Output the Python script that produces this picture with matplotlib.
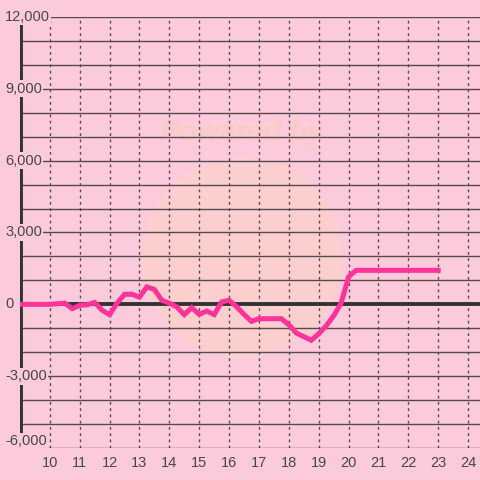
import matplotlib
matplotlib.use("Agg")
import matplotlib.pyplot as plt
import matplotlib.transforms as mtransforms
from matplotlib.patches import Circle

hours = [9.0, 10.0, 10.5, 10.75, 11.0, 11.25, 11.5, 11.75, 12.0, 12.25, 12.5, 12.75,
         13.0, 13.25, 13.5, 13.75, 14.0, 14.25, 14.5, 14.75, 15.0, 15.25, 15.5, 15.75,
         16.0, 16.25, 16.5, 16.75, 17.0, 17.25, 17.5, 17.75, 18.0, 18.25, 18.5, 18.75,
         19.0, 19.25, 19.5, 19.75, 20.0, 20.25, 23.0]
values = [0, 0, 50, -180, -40, -20, 80, -250, -430, 50, 420, 420,
          300, 730, 620, 170, 50, -110, -430, -140, -420, -280, -430, 100,
          170, -100, -420, -710, -600, -600, -600, -600, -850, -1200, -1350, -1500,
          -1230, -900, -480, 50, 1150, 1420, 1420]

x_ticks = list(range(10, 25))
y_ticks = [12000, 9000, 6000, 3000, 0, -3000, -6000]
y_tick_labels = ["12,000", "9,000", "6,000", "3,000", "0", "-3,000", "-6,000"]

bg = "#fccbdb"
grid_c = "#5a4650"
text_c = "#474747"

plt.rcParams['font.family'] = ['Liberation Sans', 'DejaVu Sans']

fig = plt.figure(figsize=(4.8, 4.8), dpi=100, facecolor=bg)
ax = fig.add_axes([20/480, 32/480, 460/480, 431/480])
ax.set_facecolor(bg)
ax.set_xlim(9.0, 24.4)
ax.set_ylim(-6000, 12000)

# watermark
wm = fig.add_axes([0, 0, 1, 1], zorder=0.5)
wm.set_xlim(0, 480); wm.set_ylim(480, 0); wm.axis('off')
wm.patch.set_alpha(0)
wm.add_patch(Circle((242, 258), 100, color="#fdd3c8", alpha=0.6, lw=0))
wm.text(242, 133, "Powered by", ha="center", va="center", fontsize=21,
        fontweight="bold", style="italic", color="#f8cbc4")
ax.set_zorder(1)
ax.patch.set_alpha(0)

# horizontal grid every 1000
for v in range(-6000, 12001, 1000):
    if v == 0:
        continue
    ax.axhline(v, color=grid_c, lw=1.0, zorder=1)
# vertical dotted grid
for h in x_ticks:
    ax.axvline(h, color=grid_c, lw=1.0, ls=(0, (2, 2.5)), zorder=1)

ax.axhline(0, color="#333333", lw=2.8, zorder=2)
ax.axvline(9.0, color="#333333", lw=3.5, zorder=2)

ax.plot(hours, values, color="#ff3399", lw=3.6, solid_joinstyle="miter", zorder=3)

for s in ax.spines.values():
    s.set_visible(False)
ax.set_yticks([])
ax.set_xticks(x_ticks)
ax.set_xticklabels([str(t) for t in x_ticks], color=text_c, fontsize=10.5)
ax.tick_params(axis='x', length=0, pad=6)

trans = mtransforms.blended_transform_factory(fig.transFigure, ax.transData)
for v, lab in zip(y_ticks, y_tick_labels):
    off = mtransforms.offset_copy(trans, fig=fig, x=0, y=(5 if v == -6000 else 0), units='points')
    fig.text(5/480, v, lab, transform=off, ha="left", va="center", fontsize=10.5,
             color=text_c, zorder=5,
             bbox=dict(boxstyle="square,pad=0.1", fc=bg, ec="none"))

fig.savefig("out.png", dpi=100, facecolor=bg)
